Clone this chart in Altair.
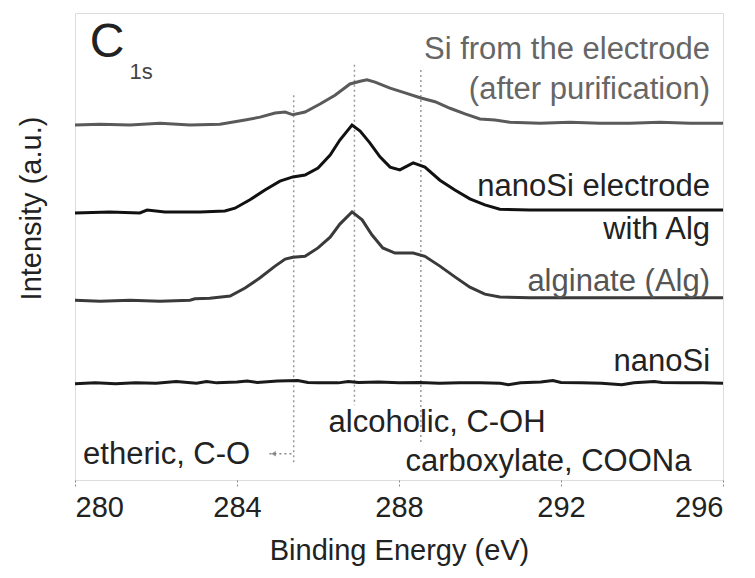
import altair as alt
import pandas as pd

# ---- data (binding energy in eV, intensity in a.u. with offsets) ----
si_purified_ev = [280.0, 280.62, 281.36, 282.10, 282.84, 283.58, 284.20, 284.57, 284.94, 285.19,
                  285.38, 285.68, 286.05, 286.42, 286.79, 287.04, 287.21, 287.41, 287.78, 288.15,
                  288.54, 288.89, 289.26, 289.63, 290.0, 290.37, 290.74, 291.48, 292.22, 292.96,
                  293.70, 294.44, 295.19, 296.0]
si_purified_int = [76.0, 76.2, 76.0, 76.4, 76.0, 76.2, 77.1, 77.7, 78.6, 78.8,
                   78.2, 78.8, 80.5, 82.4, 84.8, 85.4, 85.7, 85.2, 83.9, 82.9,
                   81.8, 81.0, 79.6, 78.4, 77.3, 77.1, 76.6, 76.4, 76.6, 76.4,
                   76.4, 76.6, 76.4, 76.4]

electrode_ev = [280.0, 280.86, 281.60, 281.78, 282.22, 283.09, 283.70, 283.95, 284.32, 284.69,
                285.06, 285.38, 285.68, 286.0, 286.30, 286.54, 286.84, 287.04, 287.28, 287.53,
                287.78, 288.02, 288.35, 288.64, 289.01, 289.38, 289.75, 290.12, 290.49, 291.23,
                291.98, 292.96, 294.20, 295.19, 296.0]
electrode_int = [57.2, 57.4, 57.2, 57.8, 57.4, 57.4, 57.6, 58.2, 60.0, 62.1,
                 64.0, 64.9, 65.3, 66.8, 69.6, 72.8, 76.0, 74.7, 72.2, 69.2,
                 67.0, 66.4, 67.9, 67.0, 64.2, 62.1, 60.2, 58.9, 58.0, 57.8,
                 57.8, 57.8, 57.8, 57.8, 57.8]

alginate_ev = [280.0, 280.62, 281.36, 282.10, 282.84, 282.96, 283.33, 283.83, 284.20, 284.57,
               284.94, 285.19, 285.38, 285.68, 286.0, 286.30, 286.54, 286.84, 287.09, 287.33,
               287.60, 287.90, 288.35, 288.64, 289.01, 289.38, 289.75, 290.12, 290.49, 291.23,
               292.96, 294.44, 296.0]
alginate_int = [38.5, 38.3, 38.5, 38.3, 38.5, 38.8, 38.9, 39.4, 41.1, 43.3,
                45.8, 47.3, 47.7, 47.9, 49.7, 52.0, 54.8, 57.4, 55.7, 52.5,
                49.7, 48.6, 48.6, 47.9, 45.8, 43.5, 41.3, 39.8, 39.2, 39.0,
                39.0, 39.0, 39.0]

nanosi_ev = [280.0, 280.5, 281.0, 281.5, 282.0, 282.5, 283.0, 283.25, 283.5, 284.0,
             284.25, 284.5, 285.0, 285.5, 285.75, 286.0, 286.5, 286.75, 287.0, 287.5,
             288.0, 288.5, 289.0, 289.5, 290.0, 290.5, 290.7, 291.0, 291.5, 291.8,
             292.0, 292.5, 293.0, 293.5, 293.8, 294.3, 294.5, 295.0, 295.5, 296.0]
nanosi_int = [20.6, 20.8, 20.6, 20.8, 20.7, 21.1, 20.7, 21.1, 20.8, 21.0,
              21.2, 20.9, 21.2, 21.3, 20.9, 20.8, 20.8, 21.1, 20.9, 21.0,
              20.8, 20.9, 20.7, 20.8, 20.8, 20.7, 20.4, 20.8, 21.0, 21.3,
              20.9, 20.8, 20.7, 20.4, 20.8, 21.1, 20.9, 20.8, 20.8, 20.7]

series_names = ["Si from the electrode", "nanoSi electrode with Alg", "alginate (Alg)", "nanoSi"]
series_colors = ["#5a5a5a", "#111111", "#3a3a3a", "#1a1a1a"]

# reference lines (peak positions)
ref_names = ["etheric", "alcoholic", "carboxylate"]
ref_ev = [285.4, 286.9, 288.54]
ref_top = [82.4, 88.9, 87.8]
ref_bottom = [3.8, 16.0, 7.5]

# text labels
label_texts = ["Si from the electrode", "(after purification)", "nanoSi electrode", "with Alg",
               "alginate (Alg)", "nanoSi"]
label_ev = [295.68] * 6
label_int = [92.1, 83.5, 62.7, 53.5, 42.4, 25.3]
label_colors = ["#666666", "#666666", "#222222", "#222222", "#555555", "#222222"]

x_ticks = [280, 284, 288, 292, 296]

# ---- build tables ----
rows = []
for name, xs, ys in zip(series_names,
                        [si_purified_ev, electrode_ev, alginate_ev, nanosi_ev],
                        [si_purified_int, electrode_int, alginate_int, nanosi_int]):
    for xv, yv in zip(xs, ys):
        rows.append({"series": name, "energy": xv, "intensity": yv})
spectra = pd.DataFrame(rows)

refs = pd.DataFrame({"name": ref_names, "energy": ref_ev, "top": ref_top, "bottom": ref_bottom})
labels = pd.DataFrame({"text": label_texts, "energy": label_ev, "intensity": label_int,
                       "color": label_colors})

FONT = "Liberation Sans"
xscale = alt.Scale(domain=[280, 296], nice=False, zero=False)
yscale = alt.Scale(domain=[0, 100], nice=False, zero=False)

x_axis = alt.Axis(values=x_ticks, format="d", title="Binding Energy (eV)", grid=False,
                  domain=False, tickColor="#888888", tickSize=7, tickDash=[2, 2],
                  labelFontSize=29, labelFont=FONT, labelColor="#222222", labelPadding=6,
                  titleFontSize=29, titleFont=FONT, titleFontWeight="normal",
                  titleColor="#222222", titlePadding=14)
y_axis = alt.Axis(title="Intensity (a.u.)", labels=False, ticks=False, grid=False,
                  domain=False, titleFontSize=29, titleFont=FONT, titleFontWeight="normal",
                  titleColor="#222222", titleX=-35, titleY=195, titleBaseline="alphabetic")

lines = alt.Chart(spectra).mark_line(strokeWidth=3, interpolate="linear").encode(
    x=alt.X("energy:Q", scale=xscale, axis=x_axis),
    y=alt.Y("intensity:Q", scale=yscale, axis=y_axis),
    color=alt.Color("series:N", scale=alt.Scale(domain=series_names, range=series_colors),
                    legend=None),
)

vrules = alt.Chart(refs).mark_rule(color="#999999", strokeDash=[2, 3], strokeWidth=1.5).encode(
    x="energy:Q", y="top:Q", y2="bottom:Q"
)

text_labels = alt.Chart(labels).mark_text(align="right", baseline="middle", fontSize=31,
                                          font=FONT).encode(
    x="energy:Q", y="intensity:Q", text="text:N",
    color=alt.Color("color:N", scale=None),
)

# title "C1s"
c_main = alt.Chart(pd.DataFrame({"t": ["C"], "x": [280.79], "y": [93.6]})).mark_text(
    fontSize=48, font=FONT, color="#222222", baseline="middle", align="center").encode(
    x="x:Q", y="y:Q", text="t:N")
c_sub = alt.Chart(pd.DataFrame({"t": ["1s"], "x": [281.63], "y": [87.4]})).mark_text(
    fontSize=22, font=FONT, color="#444444", baseline="middle", align="center").encode(
    x="x:Q", y="y:Q", text="t:N")

# peak annotations
ann = pd.DataFrame({
    "t": ["alcoholic, C-OH", "etheric, C-O", "carboxylate, COONa"],
    "x": [288.94, 280.2, 291.69],
    "y": [12.2, 5.35, 3.85],
    "align": ["center", "left", "center"],
})
ann_center = alt.Chart(ann[ann["align"] == "center"]).mark_text(
    fontSize=31, font=FONT, color="#222222", baseline="middle", align="center").encode(
    x="x:Q", y="y:Q", text="t:N")
ann_left = alt.Chart(ann[ann["align"] == "left"]).mark_text(
    fontSize=31, font=FONT, color="#222222", baseline="middle", align="left").encode(
    x="x:Q", y="y:Q", text="t:N")

# etheric pointer
pointer = alt.Chart(pd.DataFrame({"x": [284.8], "x2": [285.4], "y": [5.6]})).mark_rule(
    color="#888888", strokeDash=[2, 3], strokeWidth=1.5).encode(x="x:Q", x2="x2:Q", y="y:Q")
pointer_head = alt.Chart(pd.DataFrame({"x": [284.9], "y": [5.6]})).mark_point(
    shape="triangle-left", size=30, filled=True, color="#666666").encode(x="x:Q", y="y:Q")

chart = alt.layer(
    vrules, lines, text_labels, c_main, c_sub, ann_center, ann_left, pointer, pointer_head
).properties(
    width=648, height=467,
    autosize=alt.AutoSizeParams(type="none"),
    padding={"left": 67, "top": 5, "right": 24, "bottom": 90},
).configure_view(
    stroke="#777777", strokeDash=[2, 2], strokeWidth=1.5
).configure(background="white")

chart.save("out.html", embed_options={"renderer": "svg", "actions": False})
